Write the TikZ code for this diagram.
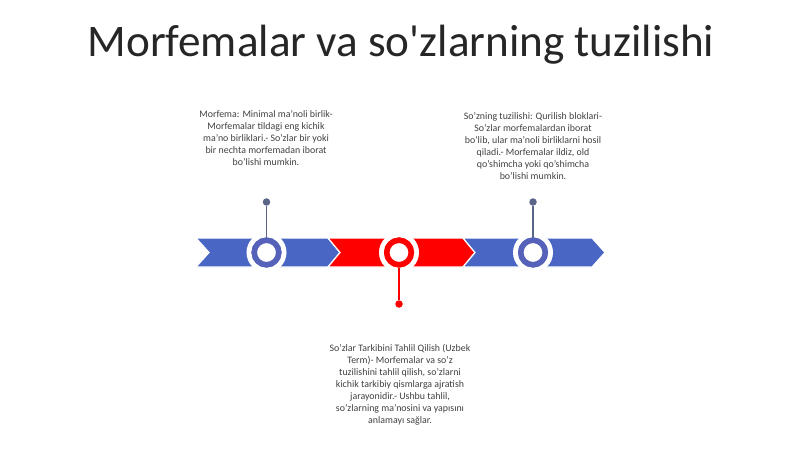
\documentclass[tikz,border=0pt]{standalone}
\usepackage{fontspec}
\setmainfont{Carlito}
\newfontfamily\titlefont{Carlito}[Ligatures=TeXOff]
\definecolor{bandblue}{HTML}{4A66C4}
\definecolor{ringblue}{HTML}{5662BA}
\definecolor{pinblue}{HTML}{5B6588}
\definecolor{bandred}{HTML}{FF0000}
\definecolor{txt}{HTML}{404040}
\tikzset{
  seg/.style={line width=1.2pt, draw=white, line join=miter},
  ringnode/.style={circle, minimum size=24.5pt, line width=5.5pt, fill=white, inner sep=0pt},
  halo/.style={circle, minimum size=40pt, fill=white, inner sep=0pt},
  pindot/.style={circle, minimum size=7.5pt, inner sep=0pt},
  stem/.style={line width=1.3pt},
  body/.style={align=center, font=\fontsize{9.9}{12}\selectfont, text=txt, inner sep=0pt},
}
\begin{document}
\begin{tikzpicture}[x=1pt,y=-1pt]
\useasboundingbox (0,0) rectangle (800,449);
\fill[white] (0,0) rectangle (800,449);
% title
\node[text=black!85, font=\titlefont\fontsize{45.2}{52}\selectfont, inner sep=0pt] (title) at (401,45) {Morfemalar va so'zlarning tuzilishi};
% band segments
\fill[bandblue, seg] (196,238) -- (328,238) -- (340,252.5) -- (328,267) -- (196,267) -- (209,252.5) -- cycle;
\fill[bandred, seg] (328,238) -- (463,238) -- (475,252.5) -- (463,267) -- (328,267) -- (340,252.5) -- cycle;
\fill[bandblue, seg] (463,238) -- (592,238) -- (605,252.5) -- (592,267) -- (463,267) -- (475,252.5) -- cycle;
% halos
\node[halo] (h1) at (266.5,252.5) {};
\node[halo] (h2) at (399,252.5) {};
\node[halo] (h3) at (533,252.5) {};
% stems and dots
\node[pindot, fill=pinblue] (d1) at (266.5,202) {};
\node[pindot, fill=bandred] (d2) at (399,304) {};
\node[pindot, fill=pinblue] (d3) at (533,202) {};
\node[ringnode, draw=ringblue] (c1) at (266.5,252.5) {};
\node[ringnode, draw=bandred] (c2) at (399,252.5) {};
\node[ringnode, draw=ringblue] (c3) at (533,252.5) {};
\draw[stem, pinblue] (d1) -- (c1.north);
\draw[stem, bandred] (d2) -- (c2.south);
\draw[stem, pinblue] (d3) -- (c3.north);
\node[ringnode, draw=ringblue] at (c1) {};
\node[ringnode, draw=bandred] at (c2) {};
\node[ringnode, draw=ringblue] at (c3) {};
% texts
\node[body, anchor=north] (t1) at (266,110.5) {Morfema: Minimal ma’noli birlik-\\Morfemalar tildagi eng kichik\\ma’no birliklari.- So’zlar bir yoki\\bir nechta morfemadan iborat\\bo’lishi mumkin.};
\node[body, anchor=north] (t3) at (533,112.5) {So’zning tuzilishi: Qurilish bloklari-\\So’zlar morfemalardan iborat\\bo’lib, ular ma’noli birliklarni hosil\\qiladi.- Morfemalar ildiz, old\\qo’shimcha yoki qo’shimcha\\bo’lishi mumkin.};
\node[body, anchor=north] (t2) at (400,344) {So’zlar Tarkibini Tahlil Qilish (Uzbek\\Term)- Morfemalar va so’z\\tuzilishini tahlil qilish, so’zlarni\\kichik tarkibiy qismlarga ajratish\\jarayonidir.- Ushbu tahlil,\\so’zlarning ma’nosini va yapısını\\anlamayı sağlar.};
\end{tikzpicture}
\end{document}
